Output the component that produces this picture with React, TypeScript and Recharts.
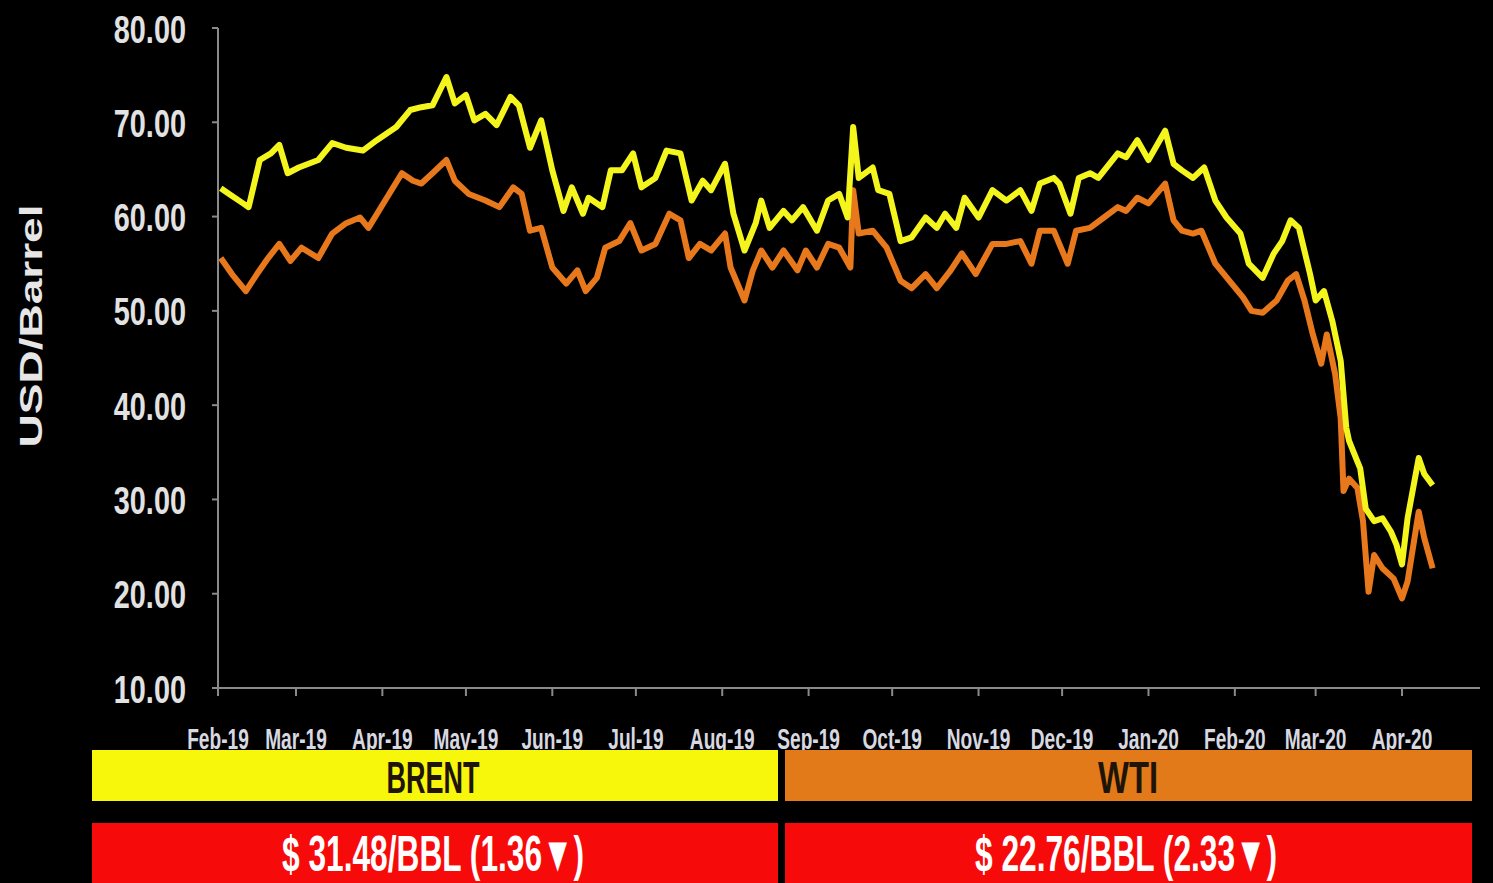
import React from "react";
import { LineChart, Line, XAxis, YAxis, Legend } from "recharts";

const brentDates = [
  "2019-02-02","2019-02-05","2019-02-10","2019-02-12","2019-02-16","2019-02-20","2019-02-23","2019-02-26",
  "2019-03-02","2019-03-09","2019-03-14","2019-03-19","2019-03-25","2019-03-30",
  "2019-04-06","2019-04-11","2019-04-15","2019-04-19","2019-04-24","2019-04-27",
  "2019-05-01","2019-05-04","2019-05-08","2019-05-12","2019-05-17","2019-05-20","2019-05-24","2019-05-28",
  "2019-06-01","2019-06-05","2019-06-08","2019-06-12","2019-06-14","2019-06-19","2019-06-22","2019-06-26","2019-06-30",
  "2019-07-03","2019-07-08","2019-07-12","2019-07-17","2019-07-21","2019-07-25","2019-07-28",
  "2019-08-02","2019-08-05","2019-08-09","2019-08-13","2019-08-15","2019-08-18","2019-08-23","2019-08-26","2019-08-30",
  "2019-09-04","2019-09-08","2019-09-12","2019-09-15","2019-09-17","2019-09-19","2019-09-24","2019-09-26","2019-09-30",
  "2019-10-04","2019-10-08","2019-10-13","2019-10-17","2019-10-20","2019-10-24","2019-10-27",
  "2019-11-01","2019-11-06","2019-11-11","2019-11-16","2019-11-20","2019-11-23","2019-11-28","2019-11-30",
  "2019-12-04","2019-12-07","2019-12-11","2019-12-14","2019-12-21","2019-12-24","2019-12-28",
  "2020-01-01","2020-01-07","2020-01-10","2020-01-13","2020-01-17","2020-01-21","2020-01-25","2020-01-29",
  "2020-02-03","2020-02-06","2020-02-11","2020-02-15","2020-02-18","2020-02-21","2020-02-24","2020-02-28",
  "2020-03-01","2020-03-04","2020-03-07","2020-03-10","2020-03-12","2020-03-13","2020-03-16","2020-03-17",
  "2020-03-19","2020-03-22","2020-03-25","2020-03-28","2020-03-30",
  "2020-04-01","2020-04-03","2020-04-07","2020-04-09","2020-04-12"
];
const brentValues = [
  63.0,62.4,61.4,61.0,66.0,66.7,67.6,64.6,
  65.2,66.0,67.8,67.3,67.0,68.1,
  69.5,71.3,71.6,71.8,74.8,72.0,
  72.9,70.2,70.9,69.7,72.7,71.8,67.3,70.2,
  64.9,60.6,63.1,60.3,62.0,61.0,64.9,64.9,66.7,
  63.1,64.1,67.0,66.7,61.7,63.8,62.8,
  65.6,60.3,56.4,59.3,61.7,58.8,60.6,59.6,61.0,
  58.5,61.7,62.4,59.9,69.5,64.1,65.2,62.8,62.4,
  57.4,57.8,59.9,58.8,60.3,58.8,62.0,
  59.9,62.8,61.7,62.8,60.6,63.5,64.1,63.5,
  60.3,64.1,64.6,64.1,66.7,66.3,68.1,
  66.0,69.1,65.6,64.9,64.1,65.2,61.7,59.9,
  58.2,55.0,53.5,56.1,57.4,59.6,58.8,53.9,
  51.1,52.1,48.9,44.7,37.6,36.2,34.0,33.3,
  29.0,27.7,28.0,26.6,25.2,
  23.1,28.0,34.4,32.7,31.5
];

const wtiDates = [
  "2019-02-02","2019-02-06","2019-02-11","2019-02-15","2019-02-19","2019-02-23","2019-02-27",
  "2019-03-03","2019-03-09","2019-03-14","2019-03-19","2019-03-24","2019-03-27",
  "2019-04-02","2019-04-08","2019-04-12","2019-04-15","2019-04-19","2019-04-24","2019-04-27",
  "2019-05-02","2019-05-08","2019-05-13","2019-05-18","2019-05-21","2019-05-24","2019-05-28",
  "2019-06-01","2019-06-06","2019-06-10","2019-06-13","2019-06-17","2019-06-20","2019-06-25","2019-06-29",
  "2019-07-03","2019-07-08","2019-07-13","2019-07-17","2019-07-20","2019-07-24","2019-07-28",
  "2019-08-02","2019-08-04","2019-08-09","2019-08-12","2019-08-15","2019-08-19","2019-08-23","2019-08-28","2019-08-31",
  "2019-09-04","2019-09-08","2019-09-12","2019-09-16","2019-09-17","2019-09-19","2019-09-24","2019-09-29",
  "2019-10-04","2019-10-08","2019-10-13","2019-10-17","2019-10-22","2019-10-26","2019-10-31",
  "2019-11-06","2019-11-11","2019-11-16","2019-11-20","2019-11-23","2019-11-28","2019-11-29",
  "2019-12-03","2019-12-06","2019-12-11","2019-12-16","2019-12-21","2019-12-24","2019-12-28",
  "2020-01-01","2020-01-07","2020-01-10","2020-01-13","2020-01-17","2020-01-20","2020-01-25","2020-01-30",
  "2020-02-04","2020-02-07","2020-02-11","2020-02-16","2020-02-20","2020-02-23","2020-02-26","2020-02-29",
  "2020-03-03","2020-03-05","2020-03-08","2020-03-10","2020-03-11","2020-03-13","2020-03-16","2020-03-18",
  "2020-03-20","2020-03-22","2020-03-25","2020-03-29",
  "2020-04-01","2020-04-03","2020-04-07","2020-04-09","2020-04-12"
];
const wtiValues = [
  55.6,53.9,52.1,53.9,55.6,57.1,55.3,
  56.7,55.6,58.2,59.3,59.9,58.8,
  61.7,64.6,63.8,63.5,64.6,66.0,63.8,
  62.4,61.7,61.0,63.1,62.4,58.5,58.8,
  54.6,52.9,54.3,52.1,53.5,56.7,57.4,59.3,
  56.4,57.1,60.3,59.6,55.6,57.1,56.4,
  58.2,54.6,51.1,54.3,56.4,54.6,56.4,54.3,56.4,
  54.6,57.1,56.7,54.6,62.8,58.2,58.5,56.7,
  53.2,52.4,53.9,52.4,54.3,56.1,53.9,
  57.1,57.1,57.4,55.0,58.5,58.5,57.8,
  55.0,58.5,58.8,59.9,61.0,60.6,62.0,
  61.4,63.5,59.6,58.5,58.2,58.5,55.0,53.2,
  51.4,50.0,49.8,51.1,53.2,53.9,51.1,47.5,
  44.4,47.5,43.3,38.6,30.9,32.2,31.2,27.7,
  20.2,24.1,22.7,21.6,
  19.5,21.3,28.7,25.9,22.7
];

const monthTicks = [
  "2019-02-01","2019-03-01","2019-04-01","2019-05-01","2019-06-01","2019-07-01","2019-08-01",
  "2019-09-01","2019-10-01","2019-11-01","2019-12-01","2020-01-01","2020-02-01","2020-03-01","2020-04-01"
];
const monthLabels = [
  "Feb-19","Mar-19","Apr-19","May-19","Jun-19","Jul-19","Aug-19",
  "Sep-19","Oct-19","Nov-19","Dec-19","Jan-20","Feb-20","Mar-20","Apr-20"
];
const yTicks = [10, 20, 30, 40, 50, 60, 70, 80];
const seriesNames = ["BRENT", "WTI"];
const priceTexts = ["$ 31.48/BBL (1.36\u25BC)", "$ 22.76/BBL (2.33\u25BC)"];

const BASE = Date.UTC(2019, 1, 1);
const dayOffset = (s: string) => {
  const [y, m, d] = s.split("-").map(Number);
  return (Date.UTC(y, m - 1, d) - BASE) / 86400000;
};

const brentData = brentDates.map((d, i) => ({ t: dayOffset(d), v: brentValues[i] }));
const wtiData = wtiDates.map((d, i) => ({ t: dayOffset(d), v: wtiValues[i] }));
const tickDays = monthTicks.map(dayOffset);

const FONT = "'Liberation Sans', Arial, sans-serif";

const XTick = (props: any) => {
  const { x, payload } = props;
  const idx = tickDays.indexOf(payload.value);
  return (
    <text transform={`translate(${x},739) scale(0.66,1)`} x={0} y={0} textAnchor="middle"
      dominantBaseline="central" fill="#d8d8e0" fontSize={29} fontFamily={FONT} fontWeight="bold">
      {monthLabels[idx]}
    </text>
  );
};

const YTick = (props: any) => {
  const { y, payload } = props;
  return (
    <text transform={`translate(186,${y + 1}) scale(0.76,1)`} x={0} y={0} textAnchor="end"
      dominantBaseline="central" fill="#e2e2e2" fontSize={38} fontFamily={FONT} fontWeight="bold">
      {Number(payload.value).toFixed(2)}
    </text>
  );
};

const YLabel = () => (
  <text x={0} y={0} transform="translate(31,326) rotate(-90)" textAnchor="middle"
    dominantBaseline="central" fill="#e6e6e6" fontSize={32} fontWeight="bold"
    fontFamily={FONT} textLength={243} lengthAdjust="spacingAndGlyphs">
    USD/Barrel
  </text>
);

const legendFill = ["#f7f70c", "#e27a1a"];

const LegendContent = (props: any) => {
  const payload = props.payload || [];
  const cols = [
    { left: 0, w: 686 },
    { left: 693, w: 687 },
  ];
  return (
    <div style={{ position: "relative", width: 1380, height: 133 }}>
      {payload.map((p: any, i: number) => (
        <React.Fragment key={i}>
          <svg style={{ position: "absolute", left: cols[i].left, top: 0 }} width={cols[i].w} height={51}>
            <rect x={0} y={0} width={cols[i].w} height={51} fill={legendFill[i]} />
            <text x={341 + (i === 1 ? 2 : 0)} y={27} textAnchor="middle" dominantBaseline="central"
              fill="#1e1408" fontSize={44} fontWeight="bold" fontFamily={FONT}
              textLength={i === 0 ? 93 : 60} lengthAdjust="spacingAndGlyphs">
              {p.value}
            </text>
          </svg>
          <svg style={{ position: "absolute", left: cols[i].left, top: 73 }} width={cols[i].w} height={60}>
            <rect x={0} y={0} width={cols[i].w} height={60} fill="#f70a0a" />
            <text x={341} y={31} textAnchor="middle" dominantBaseline="central"
              fill="#ffffff" fontSize={50} fontWeight="bold" fontFamily={FONT}
              textLength={302} lengthAdjust="spacingAndGlyphs">
              {priceTexts[i]}
            </text>
          </svg>
        </React.Fragment>
      ))}
    </div>
  );
};

export default function App() {
  return (
    <div style={{ position: "fixed", left: 0, top: 0, width: 1493, height: 883, background: "#000", overflow: "hidden" }}>
      <LineChart width={1493} height={883} margin={{ top: 28, right: 13, bottom: 2, left: 0 }}>
        <XAxis
          type="number"
          dataKey="t"
          domain={[0, 453]}
          ticks={tickDays}
          tick={<XTick />}
          interval={0}
          height={60}
          stroke="#8a8a8a"
          strokeWidth={2}
          tickSize={8}
          allowDuplicatedCategory={false}
        />
        <YAxis
          type="number"
          domain={[10, 80]}
          ticks={yTicks}
          tick={<YTick />}
          width={218}
          stroke="#8a8a8a"
          strokeWidth={2}
          tickSize={6}
          label={<YLabel />}
        />
        <Legend
          verticalAlign="bottom"
          content={<LegendContent />}
          wrapperStyle={{ position: "absolute", left: 92, top: 750, width: 1380, height: 133 }}
        />
        <Line data={wtiData} dataKey="v" name={seriesNames[1]} stroke="#e8781c" strokeWidth={6}
          dot={false} isAnimationActive={false} strokeLinejoin="round" />
        <Line data={brentData} dataKey="v" name={seriesNames[0]} stroke="#f5f51e" strokeWidth={6}
          dot={false} isAnimationActive={false} strokeLinejoin="round" />
      </LineChart>
    </div>
  );
}
